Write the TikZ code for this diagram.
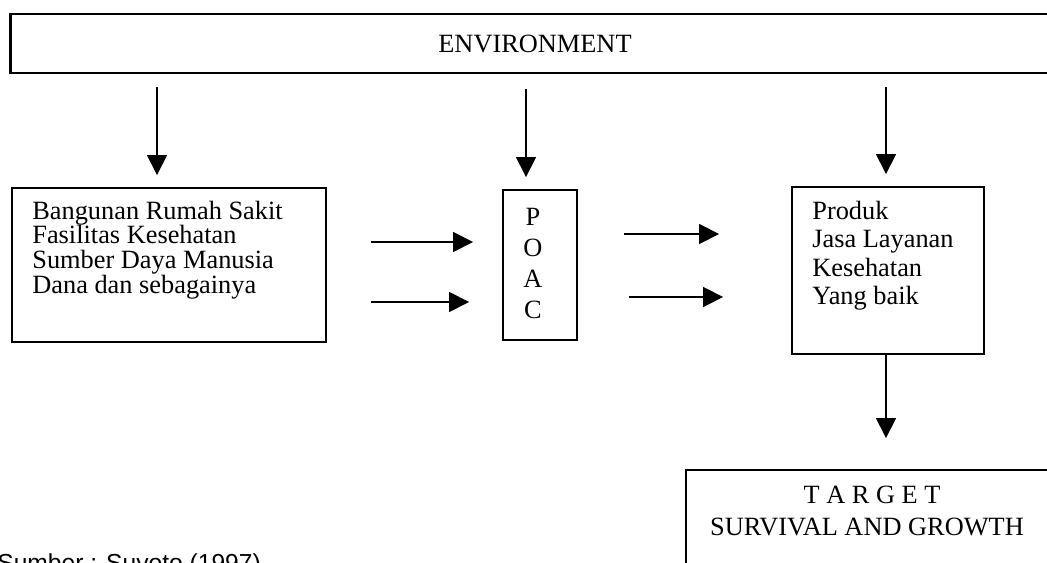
\documentclass[tikz,border=0pt]{standalone}
\usepackage{fontspec}
\setmainfont{Liberation Serif}
\newfontfamily\sumberfont{Liberation Sans}
\usetikzlibrary{arrows.meta,positioning}

\tikzset{
	box/.style={draw,line width=1.1pt,inner sep=0pt},
	arr/.style={line width=0.9pt,-{Triangle[length=0.4cm,width=0.4cm]}},
	txt/.style={inner sep=0pt,align=left,font=\fontsize{15}{14}\selectfont}
}

\begin{document}
\begin{tikzpicture}[x=0.02cm,y=-0.02cm]
	\useasboundingbox (0,0) rectangle (1047,563);
	% boxes
	\node[box,line width=1.6pt,minimum width=21cm,minimum height=1.18cm,font=\fontsize{15}{16}\selectfont] (env) at (535,43.5) {ENVIRONMENT};
	\node[box,minimum width=6.28cm,minimum height=3.08cm] (input) at (169,265) {};
	\node[box,minimum width=1.48cm,minimum height=3cm] (poac) at (540,265) {};
	\node[box,minimum width=3.84cm,minimum height=3.34cm] (output) at (888,270.5) {};
	\node[box,minimum width=8cm,minimum height=3cm] (target) at (886,545) {};
	% texts
	\node[txt,anchor=west] (inputtext) at (32,250) {Bangunan Rumah Sakit\\Fasilitas Kesehatan\\Sumber Daya Manusia\\Dana dan sebagainya};
	\node[txt,align=center,font=\fontsize{15}{17.6}\selectfont] (poactext) at (533,263.5) {P\\O\\A\\C};
	\node[txt,anchor=west,font=\fontsize{15}{16.2}\selectfont] (outputtext) at (812,255.5) {Produk\\Jasa Layanan\\Kesehatan\\Yang baik};
	\node[txt,font=\fontsize{15}{16}\selectfont] (targettext) at (872,495) {T A R G E T};
	\node[txt,font=\fontsize{15}{16}\selectfont] (growth) at (867,527) {SURVIVAL AND GROWTH};
	\node[inner sep=0pt,anchor=base west,font=\sumberfont\fontsize{14}{16}\selectfont] (sumber) at (-3,571) {Sumber : Suyoto (1997)};
	% arrow positions
	\coordinate (inL) at (157,0);
	\coordinate (inM) at (526,0);
	\coordinate (inR) at (886,0);
	\coordinate (up) at (0,242);
	\coordinate (lo) at (0,302);
	\coordinate (upR) at (0,234);
	\coordinate (loR) at (0,297);
	% environment arrows
	\draw[arr,shorten <=0.26cm,shorten >=0.24cm] (env.south -| inL) -- (input.north -| inL);
	\draw[arr,shorten <=0.3cm,shorten >=0.24cm] (env.south -| inM) -- (poac.north -| inM);
	\draw[arr,shorten <=0.26cm,shorten >=0.24cm] (env.south -| inR) -- (output.north -| inR);
	% process arrows
	\draw[arr,shorten <=0.88cm,shorten >=0.58cm] (input.east |- up) -- (poac.west |- up);
	\draw[arr,shorten <=0.88cm,shorten >=0.66cm] (input.east |- lo) -- (poac.west |- lo);
	\draw[arr,shorten <=0.92cm,shorten >=1.44cm] (poac.east |- upR) -- (output.west |- upR);
	\draw[arr,shorten <=1.02cm,shorten >=1.36cm] (poac.east |- loR) -- (output.west |- loR);
	\draw[arr,shorten >=0.62cm] (output.south -| inR) -- (target.north -| inR);
\end{tikzpicture}
\end{document}
